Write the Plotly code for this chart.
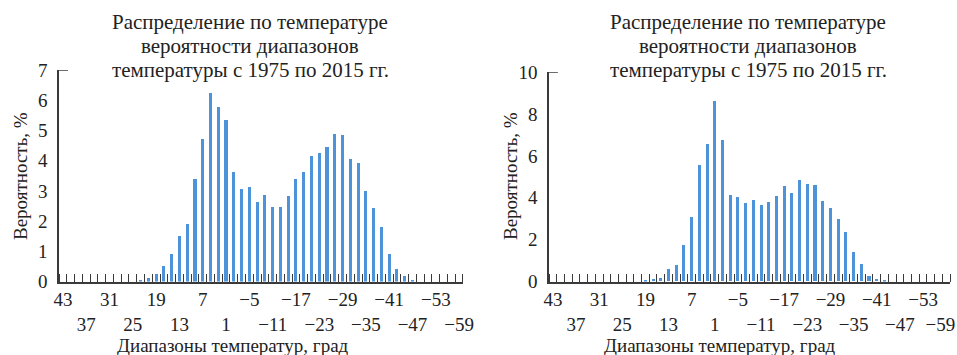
import plotly.graph_objects as go

# Temperature bins (°C), warmest to coldest, 2-degree step
temperatures = list(range(43, -60, -2))

# Probability of each temperature bin, %, period 1975–2015 (left panel)
prob_left = [0] * 10 + [
    0.04, 0.1, 0.25, 0.51, 0.9, 1.49, 1.92, 3.4, 4.71, 6.25,
    5.76, 5.34, 3.64, 3.05, 3.14, 2.62, 2.86, 2.47, 2.47, 2.82,
    3.38, 3.62, 4.15, 4.24, 4.45, 4.88, 4.86, 4.04, 3.92, 2.98,
    2.44, 1.8, 0.9, 0.43, 0.17, 0.04,
] + [0] * 6

# Probability of each temperature bin, %, period 1975–2015 (right panel)
prob_right = [0] * 12 + [
    0.07, 0.13, 0.16, 0.6, 0.77, 1.75, 3.08, 5.58, 6.55, 8.6,
    6.75, 4.15, 4.03, 3.75, 3.87, 3.64, 3.8, 4.1, 4.54, 4.24,
    4.83, 4.64, 4.59, 3.84, 3.52, 2.98, 2.35, 1.4, 0.82, 0.24,
    0.14, 0.04,
] + [0] * 8

# Axis labels: every third bin, alternating between two rows
label_top = [43, 31, 19, 7, -5, -17, -29, -41, -53]
label_bottom = [37, 25, 13, 1, -11, -23, -35, -47, -59]

left_yticks = [0, 1, 2, 3, 4, 5, 6, 7]
right_yticks = [0, 2, 4, 6, 8, 10]

title_lines = ["Распределение по температуре",
               "вероятности диапазонов",
               "температуры с 1975 по 2015 гг."]
x_title = "Диапазоны температур, град"
y_title = "Вероятность, %"

FONT = "Liberation Serif"
BAR = "#4d93d9"
AXIS = "#3a3a3a"
TXT = "#222222"


def fmt(v):
    return str(v) if v >= 0 else "\u2212" + str(-v)


ticktext = [fmt(v) for v in label_top] + ["<br>" + fmt(v) for v in label_bottom]
tickvals_left = label_top + label_bottom
# the last label of the right panel is nudged inward so it stays on the page
tickvals_right = label_top + label_bottom[:-1] + [label_bottom[-1] + 1.5]

fig = go.Figure()
fig.add_trace(go.Bar(x=temperatures, y=prob_left, width=0.8,
                     marker=dict(color=BAR, line=dict(width=0)),
                     xaxis="x", yaxis="y", showlegend=False))
fig.add_trace(go.Bar(x=temperatures, y=prob_right, width=0.8,
                     marker=dict(color=BAR, line=dict(width=0)),
                     xaxis="x2", yaxis="y2", showlegend=False))

xcommon = dict(
    range=[44, -60], showgrid=False, zeroline=False, automargin=False,
    showline=True, linecolor=AXIS, linewidth=1.5,
    tickmode="array", ticktext=ticktext,
    ticks="", ticklabelstandoff=0, ticklabeloverflow="allow", tickangle=0,
    tickfont=dict(family=FONT, size=19, color=TXT),
    minor=dict(tick0=0, dtick=2, ticks="inside", ticklen=8,
               tickwidth=1.2, tickcolor=AXIS),
)
ycommon = dict(
    showgrid=False, zeroline=False, showline=True, linecolor=AXIS,
    linewidth=1.5, ticks="", ticklabelstandoff=6, automargin=False,
    tickfont=dict(family=FONT, size=19, color=TXT),
)

fig.update_layout(
    template="none",
    width=957, height=355,
    margin=dict(l=0, r=0, t=0, b=0, autoexpand=False),
    font=dict(family=FONT, color=TXT),
    paper_bgcolor="white", plot_bgcolor="white",
    bargap=0,
    xaxis=dict(domain=[0.0617, 0.4838], anchor="y",
               tickvals=tickvals_left, **xcommon),
    xaxis2=dict(domain=[0.5737, 0.9927], anchor="y2",
                tickvals=tickvals_right, **xcommon),
    yaxis=dict(domain=[0.2070, 0.8028], anchor="x", range=[0, 7],
               tickvals=left_yticks, **ycommon),
    yaxis2=dict(domain=[0.2070, 0.7970], anchor="x2", range=[0, 10],
                tickvals=right_yticks, **ycommon),
)

# Short cap tick at the top of each value axis
for xr, yr, top in (("x domain", "y", 7), ("x2 domain", "y2", 10)):
    fig.add_shape(type="line", xref=xr, yref=yr, x0=0, x1=0.022,
                  y0=top, y1=top, line=dict(color=AXIS, width=1.5))

# Panel titles, one line each
for xc in (250, 748):
    for yc, line in zip((22, 46, 70), title_lines):
        fig.add_annotation(x=xc / 957, y=1 - yc / 355, xref="paper", yref="paper",
                           text=line, showarrow=False,
                           xanchor="center", yanchor="middle",
                           font=dict(family=FONT, size=21, color=TXT))

for xc in (233, 720):
    fig.add_annotation(x=xc / 957, y=1 - 345 / 355, xref="paper", yref="paper",
                       text=x_title, showarrow=False, xanchor="center",
                       yanchor="middle",
                       font=dict(family=FONT, size=19, color=TXT))

for xc in (20, 510):
    fig.add_annotation(x=xc / 957, y=1 - 176 / 355, xref="paper", yref="paper",
                       text=y_title, showarrow=False, textangle=-90,
                       xanchor="center", yanchor="middle",
                       font=dict(family=FONT, size=19, color=TXT))

fig.write_html("out.html")
